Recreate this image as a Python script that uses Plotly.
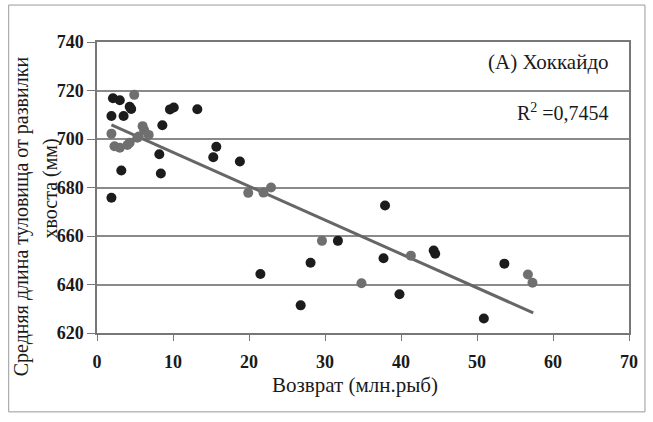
import plotly.graph_objects as go

# Dark series (returns, mean fork length)
dark_x = [2.1, 3.0, 4.3, 4.5, 1.9, 3.5, 9.6, 10.1, 13.2, 8.6, 8.2, 3.2, 8.4, 1.9,
          15.7, 15.3, 18.8, 21.5, 26.8, 28.1, 31.7, 37.9, 37.7, 39.8, 44.3, 44.5, 50.9, 53.6]
dark_y = [716.8, 716.0, 713.3, 712.4, 709.5, 709.5, 712.2, 713.0, 712.3, 705.7, 693.7, 687.0, 685.8, 675.8,
          696.8, 692.5, 690.7, 644.3, 631.4, 649.0, 658.0, 672.6, 650.8, 636.0, 654.0, 652.7, 626.0, 648.6]

# Gray series
gray_x = [4.9, 1.9, 2.3, 3.0, 4.0, 4.3, 6.0, 6.2, 5.5, 5.3, 6.8, 19.9, 21.9, 22.9,
          29.6, 34.8, 41.3, 56.7, 57.3]
gray_y = [718.2, 702.2, 697.0, 696.4, 697.5, 698.5, 705.3, 703.7, 701.0, 700.5, 701.7, 677.8, 677.9, 680.0,
          658.0, 640.5, 651.9, 644.1, 640.7]

# Linear trend line endpoints
trend_x = [1.9, 57.4]
trend_y = [705.8, 628.3]

x_ticks = [0, 10, 20, 30, 40, 50, 60, 70]
y_ticks = [620, 640, 660, 680, 700, 720, 740]

FONT = "Liberation Serif"

fig = go.Figure()
fig.add_trace(go.Scatter(x=trend_x, y=trend_y, mode="lines",
                         line=dict(color="#666666", width=3), showlegend=False))
fig.add_trace(go.Scatter(x=gray_x, y=gray_y, mode="markers",
                         marker=dict(color="#6f6f6f", size=10), showlegend=False))
fig.add_trace(go.Scatter(x=dark_x, y=dark_y, mode="markers",
                         marker=dict(color="#1c1c1c", size=10), showlegend=False))

fig.update_layout(
    width=653, height=422,
    margin=dict(l=96.5, r=24, t=42, b=89),
    paper_bgcolor="white", plot_bgcolor="white",
    font=dict(family=FONT, color="#1a1a1a"),
    xaxis=dict(range=[0, 70], tickvals=x_ticks, showgrid=False, zeroline=False,
               showline=True, linecolor="#777777", linewidth=1.5, mirror=True,
               ticks="outside", ticklen=6, tickcolor="#777777", ticklabelstandoff=6,
               tickfont=dict(size=18, family=FONT, weight="bold")),
    yaxis=dict(range=[620, 740], tickvals=y_ticks, showgrid=True, gridcolor="#8a8a8a", gridwidth=1.5,
               zeroline=False, showline=True, linecolor="#777777", linewidth=1.5, mirror=True,
               ticks="outside", ticklen=8, tickcolor="#777777", ticklabelstandoff=0,
               tickfont=dict(size=18, family=FONT, weight="bold")),
    annotations=[
        dict(text="Средняя длина туловища от развилки", xref="paper", yref="paper",
             x=-0.1415, y=0.40, xanchor="center", yanchor="middle", textangle=-90, showarrow=False,
             font=dict(size=20, family=FONT)),
        dict(text="хвоста (мм)", xref="paper", yref="paper",
             x=-0.0875, y=0.498, xanchor="center", yanchor="middle", textangle=-90, showarrow=False,
             font=dict(size=20, family=FONT)),
        dict(text="Возврат (млн.рыб)", xref="paper", yref="paper", x=0.4855, y=-0.18,
             xanchor="center", yanchor="middle", showarrow=False, font=dict(size=21, family=FONT)),
        dict(text="(A) Хоккайдо", xref="paper", yref="paper", x=0.967, y=0.93,
             xanchor="right", yanchor="middle", showarrow=False, font=dict(size=21, family=FONT)),
        dict(text="R<sup>2</sup> =0,7454", xref="paper", yref="paper", x=0.967, y=0.76,
             xanchor="right", yanchor="middle", showarrow=False, font=dict(size=20, family=FONT)),
    ],
    shapes=[dict(type="rect", xref="paper", yref="paper", x0=-0.166, x1=1.030, y0=-0.271, y1=1.127,
                 line=dict(color="#9a9a9a", width=1))],
)

fig.write_html("out.html")
